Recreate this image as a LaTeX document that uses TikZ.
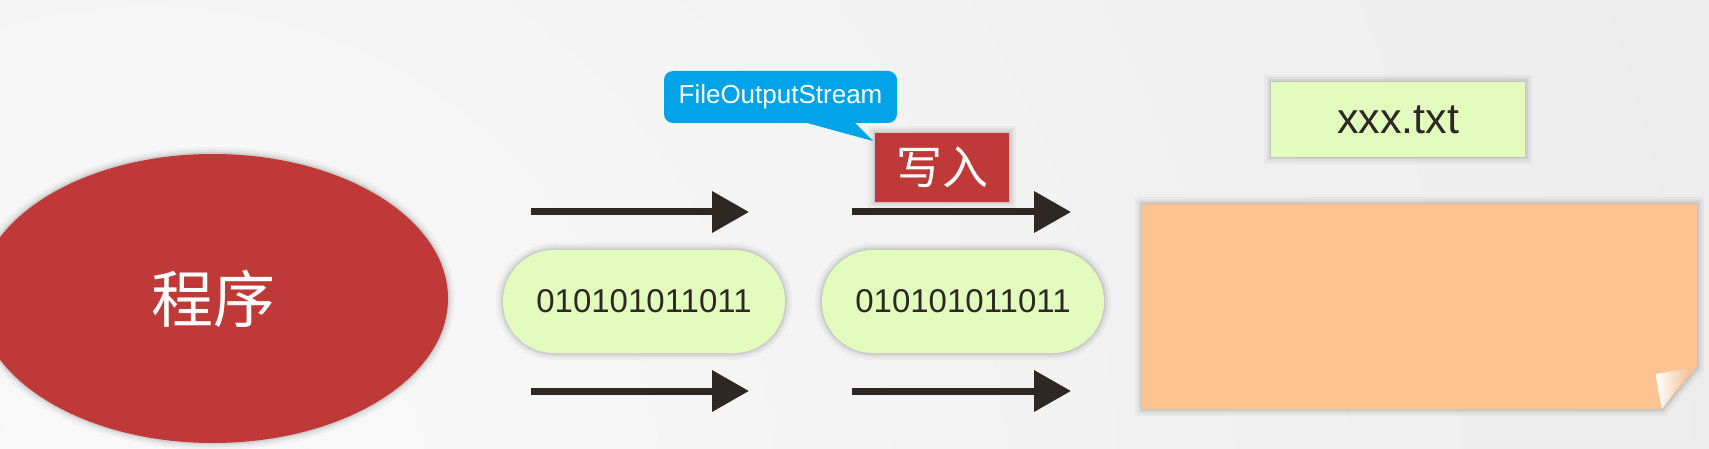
\documentclass[tikz,border=0pt]{standalone}
\usepackage{fontspec}
\setmainfont{Liberation Sans}
\newfontfamily\cjk{Noto Sans CJK SC}
\usetikzlibrary{arrows.meta,shapes.geometric}
\definecolor{bgA}{RGB}{250,250,250}
\definecolor{bgB}{RGB}{222,222,222}
\definecolor{redc}{RGB}{191,57,56}
\definecolor{greenc}{RGB}{226,252,189}
\definecolor{orangec}{RGB}{253,196,146}
\definecolor{bluec}{RGB}{0,162,232}
\definecolor{darkc}{RGB}{46,39,36}
\tikzset{
  shd/.style={
    preaction={draw=black,draw opacity=0.03,line width=14pt},
    preaction={draw=black,draw opacity=0.04,line width=9pt},
    preaction={draw=black,draw opacity=0.05,line width=5pt},
    preaction={draw=black,draw opacity=0.06,line width=2.5pt}},
  pill/.style={fill=greenc,rounded corners=51pt,minimum width=282pt,minimum height=103pt,inner sep=0pt,shd,text=darkc,font=\fontsize{33}{33}\selectfont},
  flow/.style={draw=darkc,line width=7pt,-{Triangle[length=37pt,width=40pt]}},
}
\begin{document}
\begin{tikzpicture}[x=1pt,y=-1pt]
\useasboundingbox (0,0) rectangle (1709,449);
\begin{scope}
\clip (0,0) rectangle (1709,449);
\shade[inner color=bgA,outer color=bgB] (150,520) circle (3200pt);
\end{scope}
% program ellipse
\node[ellipse,fill=redc,minimum width=470pt,minimum height=289pt,inner sep=0pt,shd,text=white,font=\cjk\fontsize{62}{62}\selectfont] (prog) at (213,298.5) {程序};
% pills
\node[pill] (p1) at (644,301.5) {010101011011};
\node[pill] (p2) at (963,301.5) {010101011011};
% arrows
\coordinate (a1s) at (531,212); \coordinate (a1e) at (749,212);
\coordinate (a2s) at (852,212); \coordinate (a2e) at (1071,212);
\coordinate (b1s) at (531,391); \coordinate (b1e) at (749,391);
\coordinate (b2s) at (852,391); \coordinate (b2e) at (1071,391);
\draw[flow] (a1s) -- (a1e);
\draw[flow] (a2s) -- (a2e);
\draw[flow] (b1s) -- (b1e);
\draw[flow] (b2s) -- (b2e);
% write box
\node[fill=redc,minimum width=134pt,minimum height=69pt,inner sep=0pt,shd,text=white,font=\cjk\fontsize{46}{46}\selectfont] (write) at (942,167.5) {写入};
% callout
\coordinate (tip) at (873,141);
\fill[bluec] (800,121) -- (tip) -- (853,121) -- cycle;
\node[fill=bluec,rounded corners=9pt,minimum width=233pt,minimum height=52pt,inner sep=0pt,text=white,font=\fontsize{26}{26}\selectfont] (fos) at (780.5,97) {FileOutputStream};
% file label
\node[fill=greenc,minimum width=254pt,minimum height=75pt,inner sep=0pt,shd,text=darkc,font=\fontsize{43}{43}\selectfont] (fname) at (1398,119.5) {xxx.txt};
% file sheet
\fill[orangec,shd] (1142,204) -- (1697,204) -- (1697,367) -- (1662,409) -- (1142,409) -- cycle;
\shade[left color=white,right color=orangec!80!brown!90] (1656,374) .. controls (1658,390) .. (1662,409) -- (1692,368) -- cycle;
\end{tikzpicture}
\end{document}
